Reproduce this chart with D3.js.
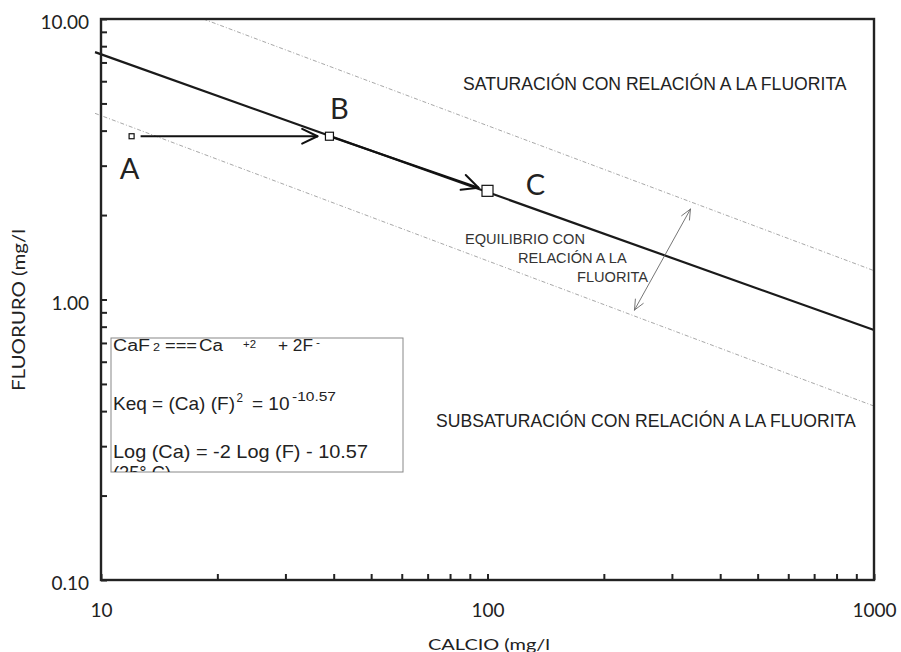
<!DOCTYPE html>
<html>
<head>
<meta charset="utf-8">
<script src="https://cdn.jsdelivr.net/npm/d3@7"></script>
<style>
  body { margin: 0; background: #fff; }
  svg { display: block; }
</style>
</head>
<body>
<svg id="chart" width="901" height="652"></svg>
<script>
// Axis ticks (log scales)
const xMajorTicks = [10, 100, 1000];
const xTickLabels = ["10", "100", "1000"];
const xMinorTicks = [20, 30, 40, 50, 60, 70, 80, 90, 200, 300, 400, 500, 600, 700, 800, 900];
const yMajorTicks = [0.1, 1, 10];
const yTickLabels = ["0.10", "1.00", "10.00"];
const yMinorTicks = [0.2, 0.3, 0.4, 0.5, 0.6, 0.7, 0.8, 0.9, 2, 3, 4, 5, 6, 7, 8, 9];

// Fluorite equilibrium line and the band limits, as [calcio, fluoruro] in mg/l
const equilibriumLine = [[9.65, 7.62], [1000, 0.778]];
const upperLimit = [[18.4, 10], [1000, 1.267]];
const lowerLimit = [[9.65, 4.61], [1000, 0.417]];

// Sample points
const pointNames = ["A", "B", "C"];
const pointCalcio = [12, 39, 100];
const pointFluoruro = [3.82, 3.82, 2.44];

// Double arrow across the equilibrium band, [calcio, fluoruro]
const bandArrow = [[240, 0.917], [335, 2.10]];

const svg = d3.select("#chart");
const geo = "Lato, 'Open Sans', sans-serif";
const sans = "'Liberation Sans', Arial, sans-serif";

const x = d3.scaleLog().domain([10, 1000]).range([101, 874]);
const y = d3.scaleLog().domain([0.1, 10]).range([580, 19]);

// Band limits (thin dotted) and the equilibrium line
const line = d3.line().x(d => x(d[0])).y(d => y(d[1]));
[upperLimit, lowerLimit].forEach(seg => {
  svg.append("path").attr("d", line(seg))
    .attr("fill", "none").attr("stroke", "#a8a8a8").attr("stroke-width", 1)
    .attr("stroke-dasharray", "4 2 1 2");
});
svg.append("path").attr("d", line(equilibriumLine))
  .attr("fill", "none").attr("stroke", "#1a1a1a").attr("stroke-width", 2.2);

// Axes: inward ticks on the left and bottom
function styleAxis(g) {
  g.select(".domain").remove();
  g.selectAll(".tick line").attr("stroke", "#222").attr("stroke-width", 2);
  g.selectAll(".tick text").attr("fill", "#222").style("font-family", geo).style("font-size", "19px");
}
svg.append("g").attr("transform", "translate(101,0)")
  .call(d3.axisLeft(y).tickValues(yMajorTicks).tickFormat((d, i) => yTickLabels[i]).tickSize(-6).tickPadding(12))
  .call(styleAxis)
  .call(g => g.selectAll(".tick text").attr("dy", "0.5em"));
svg.append("g").attr("transform", "translate(101,0)")
  .call(d3.axisLeft(y).tickValues(yMinorTicks).tickFormat(() => "").tickSize(-6))
  .call(styleAxis);
svg.append("g").attr("transform", "translate(0,580)")
  .call(d3.axisBottom(x).tickValues(xMajorTicks).tickFormat((d, i) => xTickLabels[i]).tickSize(-6).tickPadding(24))
  .call(styleAxis);
svg.append("g").attr("transform", "translate(0,580)")
  .call(d3.axisBottom(x).tickValues(xMinorTicks).tickFormat(() => "").tickSize(-6))
  .call(styleAxis);

// Plot frame
svg.append("rect")
  .attr("x", x(10)).attr("y", y(10))
  .attr("width", x(1000) - x(10)).attr("height", y(0.1) - y(10))
  .attr("fill", "none").attr("stroke", "#222").attr("stroke-width", 2.4);

// Axis titles
svg.append("text")
  .attr("transform", "translate(25,391) rotate(-90)")
  .attr("text-anchor", "start")
  .attr("textLength", 162).attr("lengthAdjust", "spacingAndGlyphs")
  .style("font-family", geo).style("font-size", "16.5px").attr("fill", "#222")
  .text("FLUORURO (mg/l");
svg.append("text")
  .attr("x", 489).attr("y", 650).attr("text-anchor", "middle")
  .attr("textLength", 122).attr("lengthAdjust", "spacingAndGlyphs")
  .style("font-family", geo).style("font-size", "16px").attr("fill", "#222")
  .text("CALCIO (mg/l");

// Open chevron arrow head at a tip, pointing along angle ang
function chevron(g, tx, ty, ang, len, half, color, width) {
  [-half, half].forEach(h => {
    const a = ang + Math.PI + h;
    g.append("line")
      .attr("x1", tx).attr("y1", ty)
      .attr("x2", tx + len * Math.cos(a)).attr("y2", ty + len * Math.sin(a))
      .attr("stroke", color).attr("stroke-width", width).attr("stroke-linecap", "round");
  });
}
function arrowBetween(p0, p1, gap0, gap1, color, width, len, half, both) {
  const dx = p1[0] - p0[0], dy = p1[1] - p0[1];
  const d = Math.hypot(dx, dy), ux = dx / d, uy = dy / d;
  const s = [p0[0] + ux * gap0, p0[1] + uy * gap0];
  const e = [p1[0] - ux * gap1, p1[1] - uy * gap1];
  const g = svg.append("g");
  g.append("line").attr("x1", s[0]).attr("y1", s[1]).attr("x2", e[0]).attr("y2", e[1])
    .attr("stroke", color).attr("stroke-width", width);
  const ang = Math.atan2(dy, dx);
  chevron(g, e[0], e[1], ang, len, half, color, width);
  if (both) chevron(g, s[0], s[1], ang + Math.PI, len, half, color, width);
}

const pts = pointNames.map((n, i) => [x(pointCalcio[i]), y(pointFluoruro[i])]);
arrowBetween(pts[0], pts[1], 9, 12, "#111", 2, 17, 0.45, false);
arrowBetween(pts[1], pts[2], 0, 9.5, "#111", 2, 18, 0.45, false);
arrowBetween([x(bandArrow[0][0]), y(bandArrow[0][1])], [x(bandArrow[1][0]), y(bandArrow[1][1])],
  0, 0, "#666", 0.9, 11, 0.42, true);

// Point markers (open squares of growing size)
const markerSize = [5, 8, 11];
pts.forEach((p, i) => {
  const s = markerSize[i];
  svg.append("rect").attr("x", p[0] - s / 2).attr("y", p[1] - s / 2)
    .attr("width", s).attr("height", s)
    .attr("fill", "#fff").attr("stroke", "#111").attr("stroke-width", 1.2);
});
const labelOffset = [[-2, 43], [10, -17], [48, 4]];
pts.forEach((p, i) => {
  svg.append("text")
    .attr("x", p[0] + labelOffset[i][0]).attr("y", p[1] + labelOffset[i][1])
    .attr("text-anchor", "middle")
    .style("font-family", geo).style("font-size", "29px").attr("fill", "#222")
    .text(pointNames[i]);
});

// Region annotations
svg.append("text").attr("x", 463).attr("y", 90)
  .style("font-family", sans).style("font-size", "17.6px").attr("fill", "#222")
  .text("SATURACIÓN CON RELACIÓN A LA FLUORITA");
svg.append("text").attr("x", 436).attr("y", 427)
  .style("font-family", sans).style("font-size", "17.6px").attr("fill", "#222")
  .text("SUBSATURACIÓN CON RELACIÓN A LA FLUORITA");
[["EQUILIBRIO CON", 465, 243.5], ["RELACIÓN A LA", 518, 262.7], ["FLUORITA", 577, 281.7]]
  .forEach(t => {
    svg.append("text").attr("x", t[1]).attr("y", t[2])
      .style("font-family", sans).style("font-size", "14.6px").attr("fill", "#333")
      .text(t[0]);
  });

// Equation box
const box = { x: 111, y: 338, w: 292, h: 134 };
svg.append("clipPath").attr("id", "boxclip")
  .append("rect").attr("x", box.x).attr("y", box.y).attr("width", box.w).attr("height", box.h);
svg.append("rect").attr("x", box.x).attr("y", box.y).attr("width", box.w).attr("height", box.h)
  .attr("fill", "#fff").attr("stroke", "#888").attr("stroke-width", 1);
const eq = svg.append("g").attr("clip-path", "url(#boxclip)")
  .style("font-family", sans).attr("fill", "#222");
function piece(txt, px, py, size, len) {
  const t = eq.append("text").attr("x", px).attr("y", py).style("font-size", size + "px").text(txt);
  if (len) t.attr("textLength", len).attr("lengthAdjust", "spacingAndGlyphs");
  return t;
}
// CaF2 === Ca+2 + 2F-
piece("CaF", 113, 351, 16, 37);
piece("2", 153, 351, 10.5, 7);
piece("===", 165, 351, 16, 32);
piece("Ca", 199, 351, 16, 24);
piece("+2", 243, 347.5, 10, 13);
piece("+ 2F", 278, 351, 16, 35);
piece("-", 316, 346, 10.5, 4);
// Keq = (Ca) (F)^2 = 10^-10.57
piece("Keq = (Ca) (F)", 113, 409.5, 19, 122);
piece("2", 236.5, 402, 12, 6.5);
piece("= 10", 252, 409.5, 19);
piece("-10.57", 292, 400.5, 12.5, 44);
// Log (Ca) = -2 Log (F) - 10.57 (25° C)
piece("Log (Ca) = -2 Log (F) - 10.57", 113, 458.3, 19, 255);
piece("(25° C)", 113, 478.8, 19, 58);
</script>
</body>
</html>
